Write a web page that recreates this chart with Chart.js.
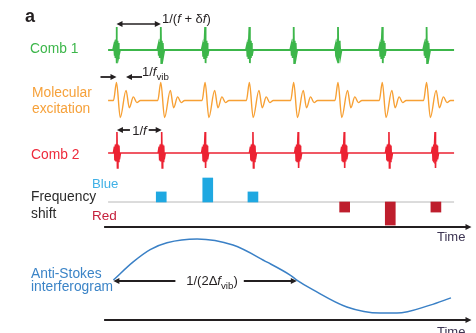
<!DOCTYPE html>
<html>
<head>
<meta charset="utf-8">
<script src="https://cdn.jsdelivr.net/npm/chart.js@4.4.1/dist/chart.umd.min.js"></script>
<style>
body { margin: 0; background: #fff; }
canvas { display: block; }
</style>
</head>
<body>
<canvas id="fig" width="476" height="333"></canvas>
<script>
// pulse arrival times, in units of the comb 1 period
var comb1Times = [0, 1, 2, 3, 4, 5, 6, 7];
var comb2Times = [0.01, 1.02, 2.0, 3.08, 4.1, 5.14, 6.15, 7.19];

// one comb pulse: time offset and amplitude
var pulseShapeT = [-0.079, -0.056, -0.045, -0.034, -0.023, -0.011, 0, 0.011, 0.023, 0.034, 0.045, 0.056, 0.079];
var comb1ShapeV = [0, 0.2, -0.25, 0.35, -0.35, 0.45, 1.0, -0.57, 0.4, -0.35, 0.3, -0.25, 0];
var comb2ShapeV = [0, 0.3, -0.35, 0.4, -0.4, 0.4, 1.0, -0.71, 0.4, -0.4, 0.35, -0.3, 0];

// molecular ringing after each comb 1 pulse
var molShapeT = [-0.068, 0, 0.085, 0.215, 0.29, 0.38, 0.46, 0.54];
var molShapeV = [0, 1, -0.95, 0.56, -0.4, 0.2, -0.12, 0];

// frequency shift of each comb 2 pulse (blue > 0, red < 0)
var shiftTimes = [1.01, 2.06, 3.08, 5.15, 6.18, 7.21];
var shiftValues = [0.42, 1, 0.42, -0.42, -0.96, -0.42];

// anti-Stokes interferogram
var interfT = [-0.07, 0.37, 0.76, 1.14, 1.82, 2.63, 3.4, 3.92, 4.07, 4.44, 5.2, 5.95, 6.33, 7.08, 7.55];
var interfV = [-0.08, 0.39, 0.72, 0.9, 1.0, 0.84, 0.39, 0.05, -0.08, -0.34, -0.79, -0.95, -0.95, -0.74, -0.55];

var lineStart = -0.19, lineEnd = 7.62;

var W = 476, H = 333;
var FONT = "'Liberation Sans', Arial, sans-serif";

function rowScale(basePx, unitPx) {
    return { type: 'linear', display: false, min: -(H - basePx) / unitPx, max: basePx / unitPx };
}

function pulseTrain(times, shapeT, shapeV) {
    var pts = [{ x: lineStart, y: 0 }];
    times.forEach(function (t) {
        shapeT.forEach(function (dt, i) {
            pts.push({ x: t + dt, y: shapeV[i] });
        });
    });
    pts.push({ x: lineEnd, y: 0 });
    return pts;
}

function head(ctx, tip, y, dir, len, half) {
    ctx.beginPath();
    ctx.moveTo(tip, y);
    ctx.lineTo(tip - dir * len, y - half);
    ctx.lineTo(tip - dir * len, y + half);
    ctx.closePath();
    ctx.fill();
}

function seg(ctx, x1, x2, y, w) {
    ctx.lineWidth = w;
    ctx.beginPath();
    ctx.moveTo(x1, y);
    ctx.lineTo(x2, y);
    ctx.stroke();
}

function runs(ctx, parts, x, y, size, color, align) {
    var fonts = parts.map(function (p) {
        return (p.i ? 'italic ' : '') + (p.sub ? size * 0.75 : size) + 'px ' + FONT;
    });
    var w = 0;
    parts.forEach(function (p, k) { ctx.font = fonts[k]; w += ctx.measureText(p.t).width; });
    var cx = align === 'center' ? x - w / 2 : x;
    ctx.fillStyle = color;
    parts.forEach(function (p, k) {
        ctx.font = fonts[k];
        ctx.fillText(p.t, cx, y + (p.sub ? size * 0.3 : 0));
        cx += ctx.measureText(p.t).width;
    });
}

function label(ctx, s, x, y, size, color, weight) {
    ctx.font = (weight || '') + ' ' + size + 'px ' + FONT;
    ctx.fillStyle = color;
    ctx.fillText(s, x, y);
}

var notes = {
    id: 'notes',
    afterDatasetsDraw: function (chart) {
        var ctx = chart.ctx, xs = chart.scales.x;
        var px = function (t) { return xs.getPixelForValue(t); };
        ctx.save();
        ctx.textAlign = 'left';
        ctx.textBaseline = 'alphabetic';
        ctx.strokeStyle = '#231f20';
        ctx.fillStyle = '#231f20';

        // 1/(f + df) period of comb 1
        var a1 = px(comb1Times[0]), a2 = px(comb1Times[1]);
        seg(ctx, a1 + 4, a2 - 4, 24, 1.6);
        head(ctx, a1, 24, -1, 6, 3);
        head(ctx, a2, 24, 1, 6, 3);

        // 1/f_vib between the first two peaks of the ringing
        var v1 = px(comb1Times[0] + molShapeT[1]), v2 = px(comb1Times[0] + molShapeT[3]);
        seg(ctx, v1 - 16, v1 - 4, 77, 1.8);
        head(ctx, v1, 77, 1, 6, 3);
        seg(ctx, v2 + 16, v2 + 4, 77, 1.8);
        head(ctx, v2, 77, -1, 6, 3);

        // 1/f period of comb 2
        var b1 = px(comb2Times[0]), b2 = px(comb2Times[1]);
        seg(ctx, b1 + 4, b1 + 13, 130, 1.8);
        head(ctx, b1, 130, -1, 6, 3);
        seg(ctx, b2 - 13, b2 - 4, 130, 1.8);
        head(ctx, b2, 130, 1, 6, 3);

        // time axes
        [227, 320].forEach(function (y) {
            seg(ctx, px(-0.28), px(7.9), y, 2);
            head(ctx, px(7.9) + 5, y, 1, 6, 3);
        });

        // 1/(2 df_vib) half period of the interferogram
        var c1 = px(interfT[0]), c2 = px(interfT[8]);
        seg(ctx, c1 + 4, c1 + 62, 281, 1.8);
        head(ctx, c1, 281, -1, 6, 3);
        seg(ctx, c2 - 53, c2 - 4, 281, 1.8);
        head(ctx, c2, 281, 1, 6, 3);

        // texts
        label(ctx, 'a', 25, 22, 18, '#231f20', 'bold');
        runs(ctx, [{ t: '1/(' }, { t: 'f', i: true }, { t: ' + δ' }, { t: 'f', i: true }, { t: ')' }], 162, 22.5, 13, '#231f20');
        label(ctx, 'Comb 1', 30, 53, 13.8, '#3cb64a');
        label(ctx, 'Molecular', 32, 97, 13.8, '#f6a13a');
        label(ctx, 'excitation', 32, 112.5, 13.8, '#f6a13a');
        runs(ctx, [{ t: '1/' }, { t: 'f', i: true }, { t: 'vib', sub: true }], 142, 76, 13, '#231f20');
        runs(ctx, [{ t: '1/' }, { t: 'f', i: true }], 139.5, 134.5, 13, '#231f20', 'center');
        label(ctx, 'Comb 2', 31, 159, 13.8, '#ee2a3b');
        label(ctx, 'Blue', 92, 188, 13.2, '#3fb0e6');
        label(ctx, 'Frequency', 31, 200.5, 13.8, '#2b2b2b');
        label(ctx, 'shift', 31, 218, 13.8, '#2b2b2b');
        label(ctx, 'Red', 92, 220, 13.5, '#c5203c');
        label(ctx, 'Time', 437, 241, 13, '#3d3553');
        label(ctx, 'Time', 437, 336, 13, '#3d3553');
        label(ctx, 'Anti-Stokes', 31, 278, 13.8, '#3b84c7');
        label(ctx, 'interferogram', 31, 290.5, 13.8, '#3b84c7');
        runs(ctx, [{ t: '1/(2Δ' }, { t: 'f', i: true }, { t: 'vib', sub: true }, { t: ')' }], 212, 285, 13, '#231f20', 'center');
        ctx.restore();
    }
};

var shiftColors = shiftValues.map(function (v) { return v > 0 ? '#1fa8e1' : '#be1e2d'; });

new Chart(document.getElementById('fig'), {
    type: 'line',
    data: {
        datasets: [
            {
                label: 'Comb 1',
                data: pulseTrain(comb1Times, pulseShapeT, comb1ShapeV),
                borderColor: '#3cb64a',
                borderWidth: 1.8,
                yAxisID: 'yComb1'
            },
            {
                label: 'Molecular excitation',
                data: pulseTrain(comb1Times, molShapeT, molShapeV),
                borderColor: '#f7a034',
                borderWidth: 1.4,
                cubicInterpolationMode: 'monotone',
                yAxisID: 'yMol'
            },
            {
                label: 'Comb 2',
                data: pulseTrain(comb2Times, pulseShapeT, comb2ShapeV),
                borderColor: '#ec2232',
                borderWidth: 1.6,
                yAxisID: 'yComb2'
            },
            {
                type: 'bar',
                label: 'Frequency shift',
                data: shiftTimes.map(function (t, i) { return { x: t, y: shiftValues[i] }; }),
                backgroundColor: shiftColors,
                barThickness: 10,
                yAxisID: 'yShift',
                order: 0
            },
            {
                label: 'zero shift',
                data: [{ x: lineStart, y: 0 }, { x: lineEnd, y: 0 }],
                borderColor: '#b8b8b8',
                borderWidth: 1,
                yAxisID: 'yShift',
                order: 1
            },
            {
                label: 'Anti-Stokes interferogram',
                data: interfT.map(function (t, i) { return { x: t, y: interfV[i] }; }),
                borderColor: '#3a80c6',
                borderWidth: 1.5,
                cubicInterpolationMode: 'monotone',
                yAxisID: 'yInterf'
            }
        ]
    },
    options: {
        responsive: false,
        animation: false,
        layout: { padding: 0 },
        elements: { point: { radius: 0 } },
        plugins: {
            legend: { display: false },
            tooltip: { enabled: false }
        },
        scales: {
            x: {
                type: 'linear',
                display: false,
                offset: false,
                min: -116.5 / 44.3,
                max: (W - 116.5) / 44.3
            },
            yComb1: rowScale(50, 23),
            yMol: rowScale(100.5, 18),
            yComb2: rowScale(153, 21),
            yShift: rowScale(202, 24),
            yInterf: rowScale(277, 38)
        }
    },
    plugins: [notes]
});
</script>
</body>
</html>
